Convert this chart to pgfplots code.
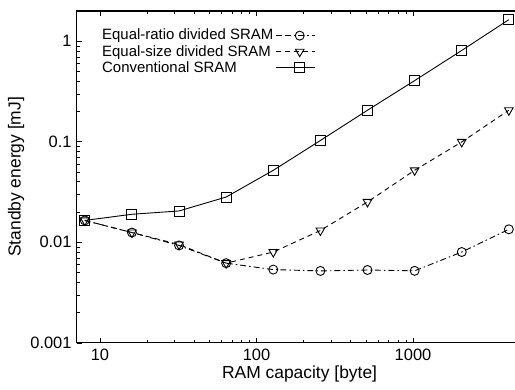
\documentclass[border=0pt]{standalone}
\usepackage{fontspec}
\setmainfont{Liberation Sans}
\usepackage{pgfplots}
\pgfplotsset{compat=1.18}
\begin{document}
\fontsize{15}{18}\selectfont
\begin{tikzpicture}
\begin{axis}[
  name=ax,
  xmode=log, ymode=log,
  scale only axis,
  width=445.7bp, height=331.8bp,
  xmin=7.1, xmax=5000,
  ymin=0.001, ymax=2,
  xtick={10,100,1000}, xticklabels={10,100,1000},
  ytick={0.001,0.01,0.1,1}, yticklabels={0.001,0.01,0.1,1},
  tick align=inside,
  major tick length=5bp, minor tick length=3bp,
  axis line style={line width=1.2pt},
  every tick/.style={black, line width=0.6pt},
  /pgf/number format/assume math mode=true,
  tick label style={font=\fontsize{16.5}{18}\selectfont},
  label style={font=\fontsize{17.5}{20}\selectfont},
  xticklabel style={yshift=-1bp},
  xlabel={RAM capacity [byte]},
  ylabel={Standby energy [mJ]},
  xlabel style={yshift=5bp},
  ylabel style={yshift=-4bp},
  legend plot pos=right,
  legend cell align=left,
  legend style={draw=none, fill=none, at={(0.05,0.955)}, anchor=north west,
    font=\fontsize{15}{15}\selectfont, row sep=-1bp, inner sep=1bp},
  legend image code/.code={\path (0bp,0bp) -- (9bp,0bp);\draw[mark repeat=2,mark phase=2,#1] plot coordinates {(9bp,0bp)(24bp,0bp)(39bp,0bp)};},
]
\addplot[black, line width=0.9pt, dash pattern=on 6bp off 3bp on 1.5bp off 3bp, mark=o, mark size=4.5bp, mark options={solid}]
coordinates {(8,0.0165)(16,0.0125)(32,0.0093)(64,0.0062)(128,0.00535)(256,0.00519)(512,0.0053)(1024,0.0052)(2048,0.008)(4096,0.01346)};
\addlegendentry{Equal-ratio divided SRAM}
\addplot[black, line width=0.9pt, dash pattern=on 5bp off 4bp, mark=triangle, mark size=5bp, mark options={solid, rotate=180}]
coordinates {(8,0.0165)(16,0.0125)(32,0.0095)(64,0.0062)(128,0.008)(256,0.0131)(512,0.0252)(1024,0.052)(2048,0.0996)(4096,0.206)};
\addlegendentry{Equal-size divided SRAM}
\addplot[black, line width=0.9pt, mark=square, mark size=5bp, mark options={solid}]
coordinates {(8,0.0165)(16,0.019)(32,0.0205)(64,0.0282)(128,0.052)(256,0.103)(512,0.206)(1024,0.406)(2048,0.81)(4096,1.64)};
\addlegendentry{Conventional SRAM}
\end{axis}
\pgfresetboundingbox
\path ([xshift=-76.7bp,yshift=11bp]ax.north west) rectangle ([xshift=438.3bp,yshift=-47bp]ax.south west);
\end{tikzpicture}
\end{document}
